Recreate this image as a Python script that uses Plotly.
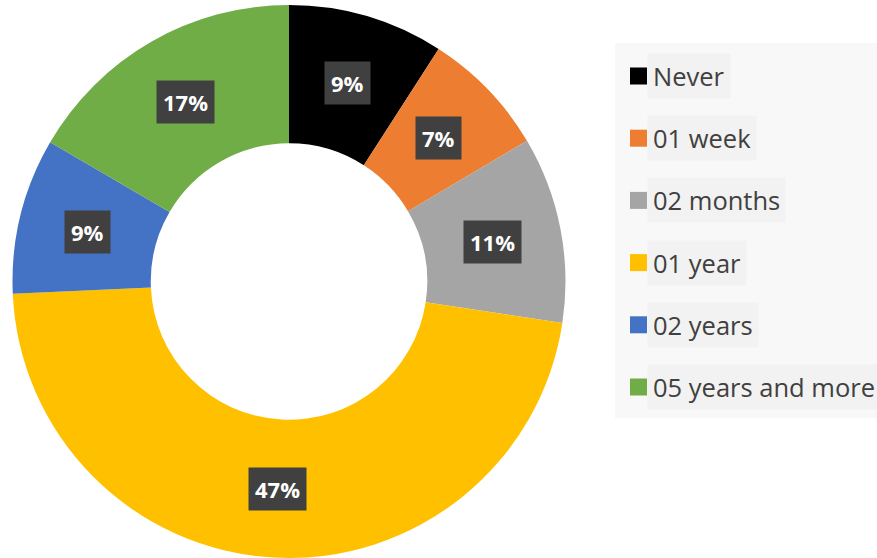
import math
import plotly.graph_objects as go

categories = ["Never", "01 week", "02 months", "01 year", "02 years", "05 years and more"]
values = [9.1, 7.4, 10.9, 46.9, 9.1, 16.6]
colors = ["#000000", "#ED7D31", "#A5A5A5", "#FFC000", "#4472C4", "#70AD47"]

W, H = 877, 558
dom_x = [12.5 / W, 565.5 / W]
dom_y = [0.0, 0.991]
HOLE = 0.5

fig = go.Figure(go.Pie(
    labels=categories, values=values, sort=False, direction="clockwise",
    rotation=0, hole=HOLE, marker=dict(colors=colors, line=dict(width=0)),
    textinfo="none", hoverinfo="label+percent", showlegend=False,
    domain=dict(x=dom_x, y=dom_y),
))

# percentage labels placed at slice mid-angles, mid-ring
cx = (dom_x[0] + dom_x[1]) / 2 * W
cy_up = (dom_y[0] + dom_y[1]) / 2 * H
R = min((dom_x[1] - dom_x[0]) * W, (dom_y[1] - dom_y[0]) * H) / 2
rm = R * (1 + HOLE) / 2
total = sum(values)
cum = 0
for v in values:
    mid = (cum + v / 2) / total * 2 * math.pi
    cum += v
    px = cx + rm * math.sin(mid)
    py = cy_up + rm * math.cos(mid)
    fig.add_annotation(
        x=px / W, y=py / H, xref="paper", yref="paper",
        text=f"<b>{round(v / total * 100)}%</b>", showarrow=False,
        font=dict(family="Open Sans", size=22, color="#FFFFFF"),
        bgcolor="#404040", borderpad=6, xanchor="center", yanchor="middle",
    )

# custom legend
fig.add_shape(type="rect", xref="paper", yref="paper",
              x0=615 / W, x1=1.0, y0=1 - 418 / H, y1=1 - 43 / H,
              fillcolor="#F8F8F8", line=dict(width=0), layer="below")
row0, step = 76, 62.2
for i, (name, col) in enumerate(zip(categories, colors)):
    yc = row0 + i * step
    fig.add_shape(type="rect", xref="paper", yref="paper",
                  x0=630 / W, x1=647 / W, y0=1 - (yc + 8.5) / H, y1=1 - (yc - 8.5) / H,
                  fillcolor=col, line=dict(width=0))
    fig.add_annotation(
        x=647 / W, y=1 - yc / H, xref="paper", yref="paper", text=name,
        showarrow=False, xanchor="left", yanchor="middle",
        font=dict(family="Open Sans", size=25.5, color="#404040"),
        bgcolor="#F2F2F2", borderpad=5,
    )

fig.update_layout(
    width=W, height=H, margin=dict(l=0, r=0, t=0, b=0),
    paper_bgcolor="#FFFFFF", plot_bgcolor="#FFFFFF", showlegend=False,
)
fig.write_html("out.html", config={"displayModeBar": False},
               post_script="document.body.style.margin='0';document.body.style.overflow='hidden';")
